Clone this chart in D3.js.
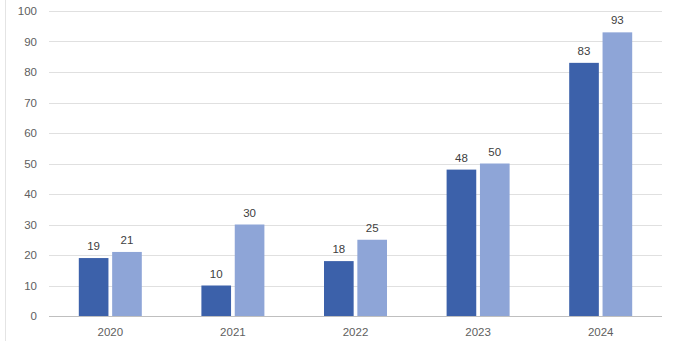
<!DOCTYPE html>
<html>
<head>
<meta charset="utf-8">
<script src="https://cdn.jsdelivr.net/npm/d3@7"></script>
<style>
  body { margin: 0; background: #fff; }
  svg text { font-family: "Liberation Sans", Arial, sans-serif; }
</style>
</head>
<body>
<svg id="chart" width="675" height="341"></svg>
<script>
const years = ["2020", "2021", "2022", "2023", "2024"];
const seriesA = [19, 10, 18, 48, 83];
const seriesB = [21, 30, 25, 50, 93];
const yTicks = [0, 10, 20, 30, 40, 50, 60, 70, 80, 90, 100];

const svg = d3.select("#chart");
const margin = { top: 11, right: 13, bottom: 25, left: 49 };
const width = 675 - margin.left - margin.right;
const height = 341 - margin.top - margin.bottom;

// faint outer border on the left
svg.append("line")
  .attr("x1", 5.5).attr("x2", 5.5)
  .attr("y1", 0).attr("y2", 341)
  .attr("stroke", "#e4e4e4");

const g = svg.append("g")
  .attr("transform", `translate(${margin.left},${margin.top})`);

const x = d3.scaleBand().domain(years).range([0, width]).padding(0);
const y = d3.scaleLinear().domain([0, 100]).range([height, 0]);

const sub = d3.scaleBand()
  .domain(["a", "b"])
  .range([0, 63])
  .paddingInner(0.111);

// gridlines
g.append("g")
  .selectAll("line")
  .data(yTicks.filter(d => d > 0))
  .join("line")
  .attr("x1", 0).attr("x2", width)
  .attr("y1", d => Math.round(y(d)) + 0.5)
  .attr("y2", d => Math.round(y(d)) + 0.5)
  .attr("stroke", "#e0e0e0");

// y labels
g.append("g")
  .selectAll("text")
  .data(yTicks)
  .join("text")
  .attr("x", -12)
  .attr("y", d => y(d))
  .attr("dy", "0.35em")
  .attr("text-anchor", "end")
  .attr("font-size", 11.5)
  .attr("fill", "#606060")
  .text(d => d);

const rows = years.map((yr, i) => ({ year: yr, a: seriesA[i], b: seriesB[i] }));
const offset = (x.bandwidth() - 63) / 2;

const groups = g.selectAll("g.year")
  .data(rows)
  .join("g")
  .attr("class", "year")
  .attr("transform", d => `translate(${x(d.year) + offset},0)`);

const colors = { a: "#3c61aa", b: "#8ea5d7" };

["a", "b"].forEach(k => {
  groups.append("rect")
    .attr("x", sub(k))
    .attr("width", sub.bandwidth())
    .attr("y", d => y(d[k]))
    .attr("height", d => y(0) - y(d[k]))
    .attr("fill", colors[k]);

  groups.append("text")
    .attr("x", sub(k) + sub.bandwidth() / 2)
    .attr("y", d => y(d[k]) - 8)
    .attr("text-anchor", "middle")
    .attr("font-size", 11.5)
    .attr("fill", "#404040")
    .text(d => d[k]);
});

// x axis baseline
g.append("line")
  .attr("x1", 0).attr("x2", width)
  .attr("y1", Math.round(y(0)) + 0.5)
  .attr("y2", Math.round(y(0)) + 0.5)
  .attr("stroke", "#bfbfbf");

// x labels
g.append("g")
  .selectAll("text")
  .data(years)
  .join("text")
  .attr("x", d => x(d) + x.bandwidth() / 2)
  .attr("y", height + 20)
  .attr("text-anchor", "middle")
  .attr("font-size", 11.5)
  .attr("fill", "#606060")
  .text(d => d);
</script>
</body>
</html>
